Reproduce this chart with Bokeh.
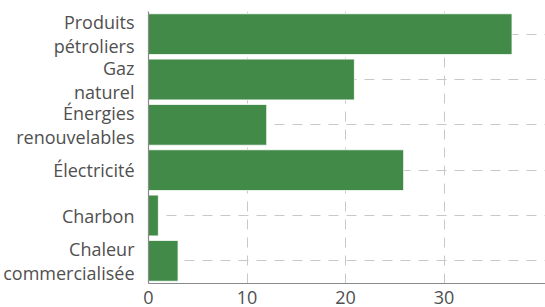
from bokeh.plotting import figure
from bokeh.models import Range1d, FactorRange, FixedTicker
from bokeh.embed import file_html
from bokeh.resources import INLINE

categories = ["Produits\npétroliers", "Gaz\nnaturel", "Énergies\nrenouvelables",
              "Électricité", "Charbon", "Chaleur\ncommercialisée"]
values = [36.9, 20.9, 12.0, 25.9, 1.0, 3.0]
x_ticks = [0, 10, 20, 30]

FONT = "Open Sans"
TXT = "#505050"

p = figure(width=545, height=307, output_backend="svg", toolbar_location=None,
           y_range=FactorRange(factors=categories[::-1], range_padding=0.0),
           x_range=Range1d(0, 40.3),
           min_border_left=148, min_border_right=0, min_border_top=11, min_border_bottom=24)
p.outline_line_color = None
p.hbar(y=categories, right=values, height=0.9, left=0,
       fill_color="#418a47", line_color="white", line_width=0.8)

p.xaxis.ticker = FixedTicker(ticks=x_ticks)
for ax in (p.xaxis[0], p.yaxis[0]):
    ax.axis_line_color = "#8a8a8a"
    ax.axis_line_width = 1.2
    ax.major_tick_line_color = None
    ax.minor_tick_line_color = None
    ax.major_label_text_font = FONT
    ax.major_label_text_font_size = "18px"
    ax.major_label_text_color = TXT
p.yaxis.major_label_text_line_height = 1.0
p.xaxis.major_label_standoff = 1
p.yaxis.major_label_standoff = 8

p.xgrid.grid_line_color = "#c8c8c8"
p.xgrid.grid_line_dash = "10 8"
p.ygrid.grid_line_color = "#c8c8c8"
p.ygrid.grid_line_dash = "10 8"

open("out.html", "w").write(file_html(p, INLINE))
